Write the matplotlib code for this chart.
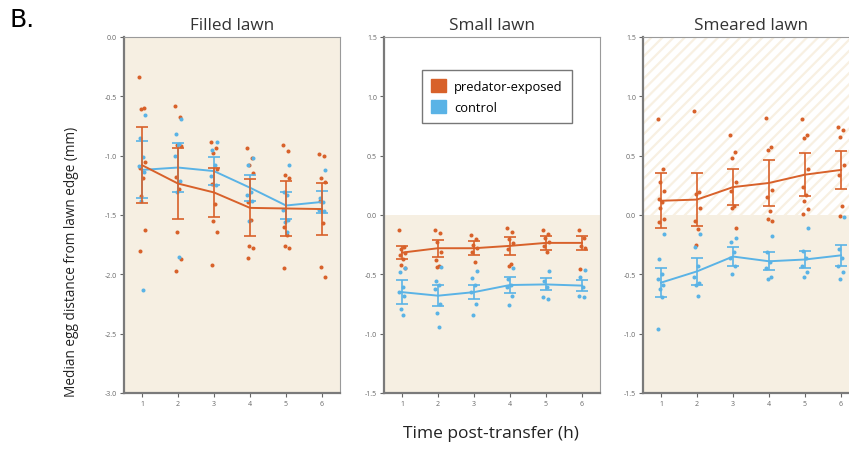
import matplotlib
matplotlib.use("Agg")
import matplotlib.pyplot as plt
from matplotlib.patches import Patch

plt.rcParams['font.family'] = ['Open Sans', 'DejaVu Sans']
plt.rcParams['hatch.linewidth'] = 1.6

times = [1, 2, 3, 4, 5, 6]
titles = ["Filled lawn", "Small lawn", "Smeared lawn"]
ylims = [(-3.0, 0.0), (-1.5, 1.5), (-1.5, 1.5)]
yticks = [[-3.0, -2.5, -2.0, -1.5, -1.0, -0.5, 0.0],
          [-1.5, -1.0, -0.5, 0.0, 0.5, 1.0, 1.5],
          [-1.5, -1.0, -0.5, 0.0, 0.5, 1.0, 1.5]]

# Filled lawn
filled_pred_mean = [-1.08, -1.235, -1.31, -1.44, -1.445, -1.45]
filled_pred_err = [0.32, 0.30, 0.21, 0.24, 0.23, 0.22]
filled_ctrl_mean = [-1.12, -1.10, -1.13, -1.27, -1.42, -1.39]
filled_ctrl_err = [0.24, 0.21, 0.12, 0.11, 0.11, 0.09]
filled_pred_pts = [
    [-0.34, -0.60, -0.61, -1.05, -1.10, -1.19, -1.34, -1.63, -1.80],
    [-0.58, -0.67, -0.91, -0.92, -1.18, -1.28, -1.64, -1.87, -1.97],
    [-0.885, -0.935, -0.975, -1.11, -1.235, -1.41, -1.55, -1.64, -1.92],
    [-0.935, -1.02, -1.08, -1.15, -1.39, -1.545, -1.76, -1.78, -1.86],
    [-0.91, -0.96, -1.16, -1.185, -1.60, -1.67, -1.76, -1.78, -1.95],
    [-0.99, -1.00, -1.19, -1.22, -1.38, -1.57, -1.94, -2.02],
]
filled_ctrl_pts = [
    [-0.66, -0.85, -1.01, -1.09, -1.14, -1.38, -2.13],
    [-0.69, -0.815, -0.90, -1.00, -1.21, -1.31, -1.85],
    [-0.885, -0.95, -1.08, -1.17, -1.25],
    [-1.02, -1.08, -1.31, -1.33, -1.38, -1.55],
    [-1.08, -1.31, -1.33, -1.455, -1.545, -1.56, -1.64],
    [-1.12, -1.36, -1.39, -1.46, -1.47],
]

# Small lawn
small_pred_mean = [-0.317, -0.28, -0.28, -0.26, -0.235, -0.235]
small_pred_err = [0.055, 0.07, 0.06, 0.075, 0.06, 0.06]
small_ctrl_mean = [-0.65, -0.68, -0.65, -0.59, -0.585, -0.595]
small_ctrl_err = [0.10, 0.09, 0.06, 0.07, 0.05, 0.045]
small_pred_pts = [
    [-0.13, -0.27, -0.29, -0.32, -0.34, -0.37, -0.42, -0.45],
    [-0.13, -0.15, -0.23, -0.31, -0.38, -0.43, -0.44],
    [-0.17, -0.20, -0.25, -0.28, -0.31, -0.40],
    [-0.11, -0.145, -0.20, -0.235, -0.29, -0.41, -0.43],
    [-0.13, -0.16, -0.19, -0.23, -0.26, -0.31],
    [-0.13, -0.19, -0.26, -0.28, -0.455],
]
small_ctrl_pts = [
    [-0.45, -0.48, -0.61, -0.65, -0.68, -0.79, -0.84],
    [-0.44, -0.56, -0.59, -0.62, -0.75, -0.83, -0.94],
    [-0.47, -0.53, -0.59, -0.65, -0.75, -0.84],
    [-0.45, -0.54, -0.59, -0.61, -0.68, -0.76],
    [-0.47, -0.56, -0.61, -0.69, -0.71],
    [-0.46, -0.52, -0.61, -0.68, -0.69],
]

# Smeared lawn
smeared_pred_mean = [0.12, 0.13, 0.235, 0.27, 0.34, 0.38]
smeared_pred_err = [0.23, 0.22, 0.15, 0.19, 0.18, 0.16]
smeared_ctrl_mean = [-0.57, -0.475, -0.35, -0.39, -0.375, -0.34]
smeared_ctrl_err = [0.125, 0.115, 0.08, 0.075, 0.075, 0.09]
smeared_pred_pts = [
    [0.81, 0.39, 0.28, 0.20, 0.135, 0.11, 0.06, -0.03, -0.06],
    [0.88, 0.19, 0.18, 0.06, -0.05, -0.12, -0.25],
    [0.675, 0.53, 0.48, 0.28, 0.20, 0.08, 0.06, -0.11],
    [0.82, 0.57, 0.55, 0.21, 0.155, 0.03, -0.03, -0.05],
    [0.81, 0.67, 0.65, 0.39, 0.24, 0.17, 0.12, 0.05, 0.01],
    [0.74, 0.72, 0.66, 0.42, 0.34, 0.08, -0.01],
]
smeared_ctrl_pts = [
    [-0.16, -0.37, -0.50, -0.54, -0.59, -0.62, -0.69, -0.96],
    [-0.16, -0.27, -0.43, -0.52, -0.57, -0.59, -0.68],
    [-0.19, -0.225, -0.315, -0.365, -0.43, -0.50],
    [-0.18, -0.315, -0.395, -0.445, -0.52, -0.54],
    [-0.11, -0.30, -0.365, -0.43, -0.48, -0.52],
    [-0.015, -0.29, -0.365, -0.43, -0.48, -0.54],
]

ORANGE = "#d8612a"
BLUE = "#5ab3e6"
BEIGE = "#f6efe2"
HATCH = "#f8f0e2"
SPINE = "#7a7a7a"

panels = [
    (filled_pred_mean, filled_pred_err, filled_ctrl_mean, filled_ctrl_err, filled_pred_pts, filled_ctrl_pts),
    (small_pred_mean, small_pred_err, small_ctrl_mean, small_ctrl_err, small_pred_pts, small_ctrl_pts),
    (smeared_pred_mean, smeared_pred_err, smeared_ctrl_mean, smeared_ctrl_err, smeared_pred_pts, smeared_ctrl_pts),
]

W, H = 849, 452
fig = plt.figure(figsize=(W / 100, H / 100), dpi=100)
lefts = [124, 384, 643]
aw = 216
bottom_px, top_px = 394, 38

jit = [-0.09, 0.06, -0.04, 0.09, -0.07, 0.03, -0.02, 0.08, -0.05]

for i, (pm, pe, cm, ce, ppts, cpts) in enumerate(panels):
    ax = fig.add_axes([lefts[i] / W, (H - bottom_px) / H, aw / W, (bottom_px - top_px) / H])
    ax.set_xlim(0.5, 6.5)
    ax.set_ylim(*ylims[i])
    ax.set_facecolor("white")
    if i == 0:
        ax.axhspan(ylims[i][0], ylims[i][1], facecolor=BEIGE, edgecolor="none", zorder=0)
    else:
        ax.axhspan(ylims[i][0], 0, facecolor=BEIGE, edgecolor="none", zorder=0)
    if i == 2:
        ax.axhspan(0, ylims[i][1], facecolor="white", edgecolor=HATCH, hatch="///", linewidth=0, zorder=0)

    for j, t in enumerate(times):
        for k, v in enumerate(ppts[j]):
            ax.plot(t + jit[k % len(jit)] * 0.9, v, 'o', ms=2.9, color=ORANGE, mec="none", zorder=3)
        for k, v in enumerate(cpts[j]):
            ax.plot(t - jit[k % len(jit)] * 0.9, v, 'o', ms=2.9, color=BLUE, mec="none", zorder=3)

    ax.errorbar(times, cm, yerr=ce, color=BLUE, lw=1.4, elinewidth=1.2, capsize=4, capthick=1.2, zorder=4)
    ax.errorbar(times, pm, yerr=pe, color=ORANGE, lw=1.4, elinewidth=1.2, capsize=4, capthick=1.2, zorder=5)

    ax.set_xticks(times)
    ax.set_xticklabels([str(t) for t in times])
    ax.set_yticks(yticks[i])
    ax.set_yticklabels([f"{v:.1f}" for v in yticks[i]])
    ax.tick_params(axis='both', labelsize=5, colors="#666666", length=3, width=0.8, direction='out', pad=2)
    for s in ['top', 'right']:
        ax.spines[s].set_color("#9a9a9a")
        ax.spines[s].set_linewidth(0.8)
    for s in ['left', 'bottom']:
        ax.spines[s].set_color(SPINE)
        ax.spines[s].set_linewidth(1.6)
    ax.set_title(titles[i], fontsize=12.3, color="#333333", pad=6)

    if i == 1:
        handles = [Patch(facecolor=ORANGE, edgecolor=ORANGE), Patch(facecolor=BLUE, edgecolor=BLUE)]
        leg = ax.legend(handles, ["predator-exposed", "control"], loc="upper left",
                        bbox_to_anchor=(0.145, 0.925), fontsize=9.3, frameon=True, fancybox=False,
                        handlelength=1.2, handleheight=1.2, borderpad=0.7, labelspacing=0.5,
                        handletextpad=0.6)
        leg.get_frame().set_edgecolor("#555555")
        leg.get_frame().set_linewidth(1.0)

fig.text(72 / W, 1 - 262 / H, "Median egg distance from lawn edge (mm)", rotation=90,
         ha="center", va="center", fontsize=9.8, color="#222222")
fig.text(491 / W, 1 - 434 / H, "Time post-transfer (h)", ha="center", va="center",
         fontsize=12.5, color="#222222")
fig.text(9 / W, 1 - 20 / H, "B.", ha="left", va="center", fontsize=18,
         family="DejaVu Sans", color="black")

fig.savefig("out.png", dpi=100)
